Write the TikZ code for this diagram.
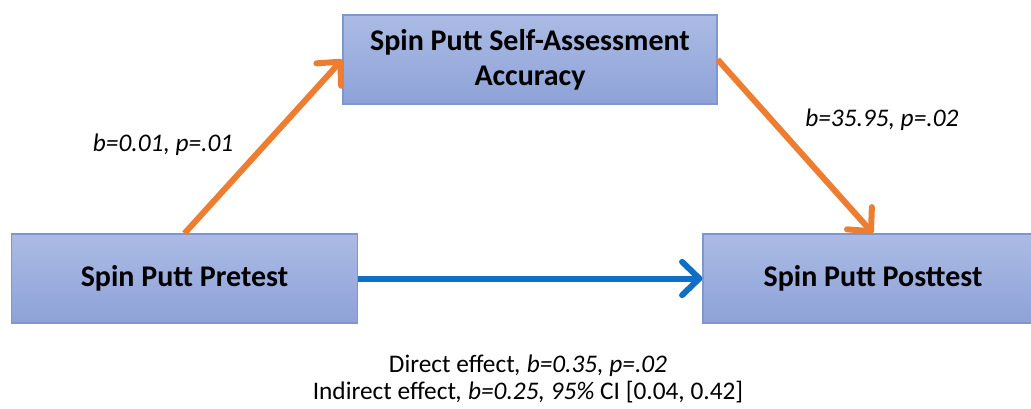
\documentclass[tikz,border=0pt]{standalone}
\usepackage{fontspec}
\setmainfont{Carlito}
\usetikzlibrary{arrows.meta}

\definecolor{boxtop}{HTML}{ABBBE4}
\definecolor{boxbot}{HTML}{8EA2D8}
\definecolor{boxline}{HTML}{7F96CE}
\definecolor{pathorange}{HTML}{ED7D31}
\definecolor{pathblue}{HTML}{0F6FC6}

\begin{document}
\begin{tikzpicture}[x=0.75pt,y=-0.75pt,
  varbox/.style={draw=boxline, line width=0.9pt, top color=boxtop, bottom color=boxbot,
    font=\fontsize{22.5}{26.25}\selectfont\bfseries, align=center, inner sep=0pt,
    minimum height=66.75pt},
  effect/.style={line width=4.5pt, -{Straight Barb[length=13pt, width=25pt, round]}},
  coef/.style={font=\fontsize{19}{22}\selectfont\itshape, inner sep=0pt, anchor=base west},
  summary/.style={font=\fontsize{19}{22}\selectfont, inner sep=0pt, anchor=base}]
\useasboundingbox (0,0) rectangle (1031,408);

% variables
\node[varbox, minimum width=280.5pt] (acc) at (530,59.5)
  {Spin Putt Self-Assessment\\Accuracy};
\node[varbox, minimum width=259.5pt] (pre) at (184.5,278.5) {Spin Putt Pretest};
\node[varbox, minimum width=255pt] (post) at (873,278.5) {Spin Putt Posttest};

% paths
\draw[effect, pathorange] (pre.north) -- (acc.west);
\draw[effect, pathorange] (acc.east) -- (post.north);
\draw[effect, pathblue] (pre.east) -- (post.west);

% coefficients
\node[coef] (a) at (92.7,151) {b=0.01, p=.01};
\node[coef] (b) at (805,126) {b=35.95, p=.02};

% direct and indirect effects
\node[summary] (direct) at (528,372) {Direct effect\textit{, b=0.35, p=.02}};
\node[summary] (indirect) at (528,399) {Indirect effect\textit{, b=0.25, 95\%} CI [0.04, 0.42]};
\end{tikzpicture}
\end{document}
